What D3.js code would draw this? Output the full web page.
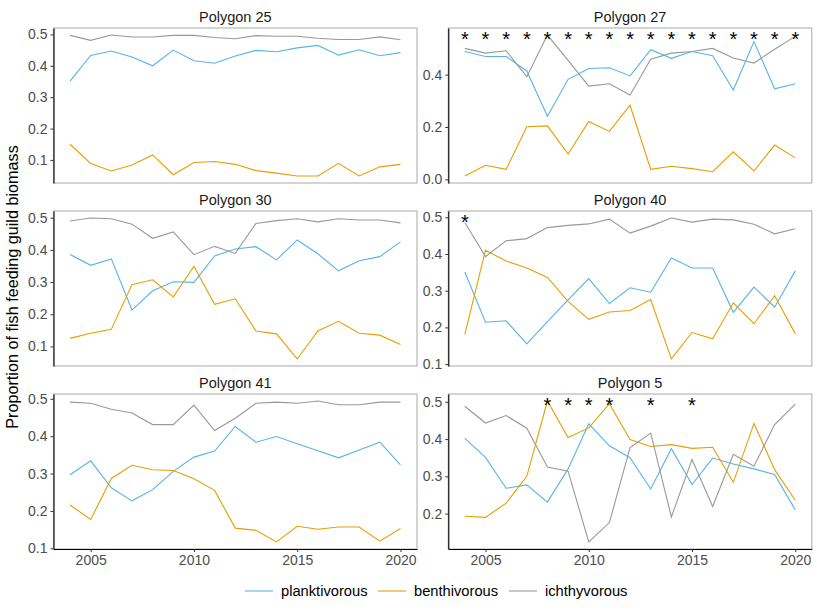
<!DOCTYPE html>
<html><head><meta charset="utf-8">
<script src="https://cdn.jsdelivr.net/npm/d3@7"></script>
<style>
body{margin:0;background:#fff;}
svg text{font-family:"Liberation Sans",Arial,sans-serif;}
</style></head>
<body>
<svg id="chart" width="817" height="612"></svg>
<script>
const years = [2004,2005,2006,2007,2008,2009,2010,2011,2012,2013,2014,2015,2016,2017,2018,2019,2020];
const panels = ["Polygon 25","Polygon 27","Polygon 30","Polygon 40","Polygon 41","Polygon 5"];
const guilds = ["planktivorous","benthivorous","ichthyvorous"];
const guildColors = ["#56B4E9","#E69F00","#999999"];

// Polygon 25
const plank25 = [0.351,0.433,0.447,0.428,0.400,0.450,0.416,0.408,0.431,0.449,0.445,0.457,0.465,0.434,0.451,0.432,0.442];
const benth25 = [0.150,0.089,0.065,0.084,0.116,0.053,0.092,0.095,0.086,0.066,0.058,0.049,0.049,0.089,0.049,0.078,0.086];
const ichth25 = [0.497,0.481,0.498,0.492,0.492,0.497,0.497,0.490,0.486,0.496,0.494,0.494,0.488,0.484,0.484,0.492,0.483];
// Polygon 27
const plank27 = [0.488,0.469,0.469,0.414,0.241,0.382,0.423,0.426,0.395,0.495,0.462,0.488,0.472,0.341,0.526,0.346,0.365];
const benth27 = [0.013,0.054,0.038,0.201,0.204,0.097,0.221,0.183,0.283,0.038,0.050,0.041,0.029,0.105,0.032,0.131,0.082];
const ichth27 = [0.500,0.482,0.491,0.392,0.551,0.454,0.356,0.365,0.322,0.459,0.482,0.488,0.500,0.463,0.444,0.497,0.546];
// Polygon 30
const plank30 = [0.386,0.352,0.372,0.213,0.273,0.301,0.299,0.381,0.403,0.410,0.369,0.431,0.388,0.335,0.366,0.379,0.425];
const benth30 = [0.125,0.141,0.153,0.292,0.307,0.254,0.349,0.231,0.248,0.148,0.139,0.061,0.148,0.178,0.141,0.135,0.106];
const ichth30 = [0.490,0.499,0.497,0.480,0.436,0.456,0.385,0.411,0.389,0.482,0.491,0.497,0.487,0.497,0.493,0.493,0.484];
// Polygon 40
const plank40 = [0.351,0.214,0.218,0.155,0.216,0.275,0.333,0.265,0.308,0.296,0.389,0.362,0.362,0.241,0.310,0.255,0.354];
const benth40 = [0.181,0.410,0.381,0.362,0.336,0.271,0.222,0.242,0.246,0.276,0.114,0.186,0.169,0.267,0.210,0.286,0.183];
const ichth40 = [0.486,0.393,0.436,0.442,0.472,0.478,0.482,0.495,0.457,0.476,0.498,0.487,0.495,0.493,0.481,0.455,0.469];
// Polygon 41
const plank41 = [0.297,0.334,0.262,0.227,0.257,0.306,0.344,0.360,0.426,0.384,0.399,0.380,0.361,0.342,0.363,0.384,0.323];
const benth41 = [0.216,0.177,0.287,0.322,0.310,0.308,0.286,0.255,0.154,0.148,0.117,0.159,0.151,0.157,0.157,0.119,0.153];
const ichth41 = [0.491,0.488,0.472,0.462,0.431,0.431,0.483,0.415,0.448,0.488,0.491,0.488,0.494,0.484,0.484,0.491,0.491];
// Polygon 5
const plank5 = [0.402,0.351,0.268,0.277,0.231,0.320,0.441,0.382,0.350,0.266,0.374,0.278,0.349,0.333,0.320,0.305,0.210];
const benth5 = [0.193,0.190,0.228,0.300,0.502,0.404,0.430,0.495,0.399,0.380,0.385,0.375,0.378,0.284,0.442,0.318,0.236];
const ichth5 = [0.488,0.443,0.463,0.429,0.325,0.314,0.124,0.176,0.377,0.416,0.191,0.345,0.219,0.359,0.327,0.439,0.494];

// significance stars (years)
const stars25 = [];
const stars27 = [2004,2005,2006,2007,2008,2009,2010,2011,2012,2013,2014,2015,2016,2017,2018,2019,2020];
const stars30 = [];
const stars40 = [2004];
const stars41 = [];
const stars5 = [2008,2009,2010,2011,2013,2015];

// y tick labels per panel
const yTicks25 = [0.1,0.2,0.3,0.4,0.5];
const yTicks27 = [0.0,0.2,0.4];
const yTicks30 = [0.1,0.2,0.3,0.4,0.5];
const yTicks40 = [0.1,0.2,0.3,0.4,0.5];
const yTicks41 = [0.1,0.2,0.3,0.4,0.5];
const yTicks5 = [0.2,0.3,0.4,0.5];
const xTicks = [2005,2010,2015,2020];

const panelData = [
  {series:[plank25,benth25,ichth25], stars:stars25, ticks:yTicks25},
  {series:[plank27,benth27,ichth27], stars:stars27, ticks:yTicks27},
  {series:[plank30,benth30,ichth30], stars:stars30, ticks:yTicks30},
  {series:[plank40,benth40,ichth40], stars:stars40, ticks:yTicks40},
  {series:[plank41,benth41,ichth41], stars:stars41, ticks:yTicks41},
  {series:[plank5,benth5,ichth5], stars:stars5, ticks:yTicks5}
];

const svg = d3.select("#chart");
const colLeft = [53.5, 448.3], colW = 363.5;
const rowTop = [28, 211, 394], rowH = 155;

const xExt = d3.extent(years), xPad = (xExt[1]-xExt[0])*0.05;

panels.forEach((name, i) => {
  const c = i % 2, r = Math.floor(i / 2);
  const pd = panelData[i];
  const g = svg.append("g").attr("transform", `translate(${colLeft[c]},${rowTop[r]})`);
  const x = d3.scaleLinear().domain([xExt[0]-xPad, xExt[1]+xPad]).range([0, colW]);
  const all = pd.series.flat();
  const yMin = d3.min(all), yMax = d3.max(all), yPad = (yMax - yMin) * 0.05;
  const y = d3.scaleLinear().domain([yMin - yPad, yMax + yPad]).range([rowH, 0]);

  // panel border
  g.append("rect").attr("x",0).attr("y",0).attr("width",colW).attr("height",rowH)
    .attr("fill","none").attr("stroke","#bdbdbd").attr("stroke-width",1.3);

  // strip title
  g.append("text").attr("x", colW/2).attr("y", -6).attr("text-anchor","middle")
    .attr("font-size", 14.5).attr("fill","#1a1a1a").text(name);

  // lines
  const line = d3.line().x((d, k) => x(years[k])).y(d => y(d));
  pd.series.forEach((s, k) => {
    g.append("path").datum(s).attr("d", line).attr("fill","none")
      .attr("stroke", guildColors[k]).attr("stroke-width", 1.1);
  });

  // stars
  const fs = 20;
  g.selectAll("text.star").data(pd.stars).join("text").attr("class","star")
    .attr("x", d => x(d)).attr("y", y(yMax) + fs*0.55).attr("text-anchor","middle")
    .attr("font-size", fs).attr("fill","#000").text("*");

  // y axis
  const ya = g.append("g").call(d3.axisLeft(y).tickValues(pd.ticks).tickSize(3).tickSizeOuter(0).tickPadding(3).tickFormat(d3.format(".1f")));
  ya.select(".domain").attr("stroke","#000").attr("stroke-width",1.1);
  ya.selectAll(".tick line").attr("stroke","#333");
  ya.selectAll(".tick text").attr("font-size",14).attr("fill","#4d4d4d").attr("font-family","Liberation Sans, Arial, sans-serif");

  // x axis only on bottom row
  if (r === 2) {
    const xa = g.append("g").attr("transform", `translate(0,${rowH})`)
      .call(d3.axisBottom(x).tickValues(xTicks).tickSize(3).tickSizeOuter(0).tickPadding(3).tickFormat(d3.format("d")));
    xa.select(".domain").attr("stroke","#000").attr("stroke-width",1.1);
    xa.selectAll(".tick line").attr("stroke","#333");
    xa.selectAll(".tick text").attr("font-size",14).attr("fill","#4d4d4d").attr("font-family","Liberation Sans, Arial, sans-serif");
  }
});

// y axis title
svg.append("text").attr("transform","translate(18,287) rotate(-90)").attr("text-anchor","middle")
  .attr("font-size",16.2).attr("fill","#000").text("Proportion of fish feeding guild biomass");

// legend
const legendX = [245, 378, 509];
const lg = svg.append("g");
guilds.forEach((gname, k) => {
  lg.append("line").attr("x1", legendX[k]).attr("x2", legendX[k]+28).attr("y1",591).attr("y2",591)
    .attr("stroke", guildColors[k]).attr("stroke-width",1.1);
  lg.append("text").attr("x", legendX[k]+36).attr("y", 596).attr("font-size",14.7).attr("fill","#000").text(gname);
});
</script>
</body></html>
